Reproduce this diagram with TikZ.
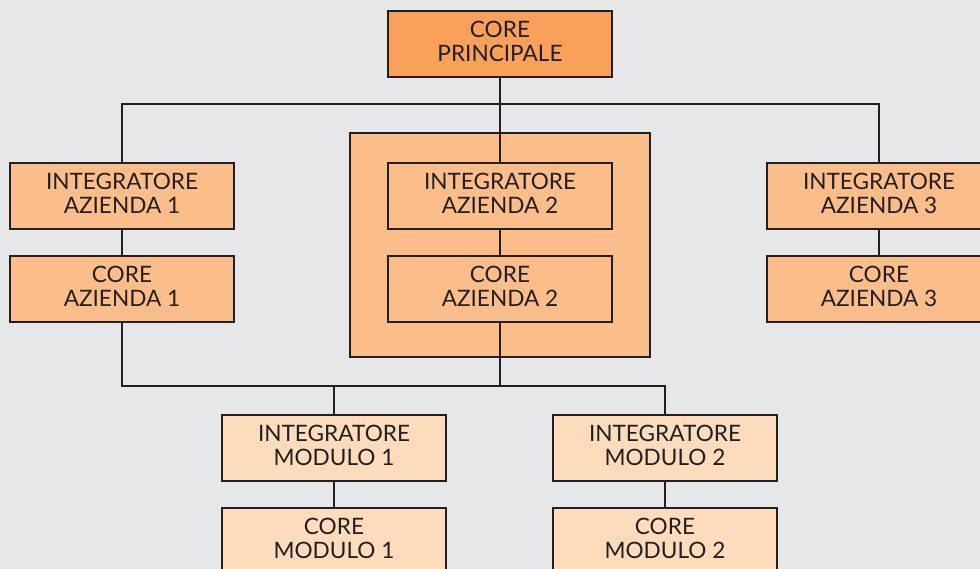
\documentclass[tikz,border=0pt]{standalone}
\usepackage{fontspec}
\setmainfont{Lato}
\definecolor{bg}{HTML}{E6E7E9}
\definecolor{ink}{HTML}{231F20}
\definecolor{mainorange}{HTML}{F9A05A}
\definecolor{midorange}{HTML}{FBBE8A}
\definecolor{lightorange}{HTML}{FDDBBD}
\begin{document}
\begin{tikzpicture}[x=1pt,y=-1pt,
  unit/.style={draw=ink, line width=2.7pt, text=ink, minimum width=224pt, minimum height=66pt,
    inner sep=0pt, align=center, text depth=5pt, font=\fontsize{22.6}{24.5}\selectfont},
  mainbox/.style={unit, fill=mainorange},
  firmbox/.style={unit, fill=midorange},
  modbox/.style={unit, fill=lightorange},
  groupbox/.style={draw=ink, line width=2.7pt, fill=midorange, minimum width=300pt, minimum height=224pt, inner sep=0pt},
  link/.style={draw=ink, line width=2.7pt}]
\useasboundingbox (0,0) rectangle (980,569);
\clip (0,0) rectangle (980,569);
\fill[bg] (0,0) rectangle (980,569);

% principal core and the second company grouped in its frame
\node[mainbox] (p) at (500,44) {CORE\\PRINCIPALE};
\node[groupbox] (g2) at (500,245) {};

% companies
\node[firmbox] (i1) at (122,196) {INTEGRATORE\\AZIENDA 1};
\node[firmbox] (c1) at (122,289) {CORE\\AZIENDA 1};
\node[firmbox] (i2) at (500,196) {INTEGRATORE\\AZIENDA 2};
\node[firmbox] (c2) at (500,289) {CORE\\AZIENDA 2};
\node[firmbox] (i3) at (879,196) {INTEGRATORE\\AZIENDA 3};
\node[firmbox] (c3) at (879,289) {CORE\\AZIENDA 3};

% modules
\node[modbox] (m1) at (334,448) {INTEGRATORE\\MODULO 1};
\node[modbox] (k1) at (334,541) {CORE\\MODULO 1};
\node[modbox] (m2) at (665,448) {INTEGRATORE\\MODULO 2};
\node[modbox] (k2) at (665,541) {CORE\\MODULO 2};

% junctions of the two bus lines
\coordinate (tb) at (500,104);
\coordinate (bb) at (500,386);

% connectors
\draw[link] (p.south) -- (i2.north);
\draw[link] (i1.north) |- (tb) -| (i3.north);
\draw[link] (i1.south) -- (c1.north);
\draw[link] (i2.south) -- (c2.north);
\draw[link] (i3.south) -- (c3.north);
\draw[link] (c2.south) -- (bb);
\draw[link] (c1.south) |- (bb);
\draw[link] (m1.north) |- (bb) -| (m2.north);
\draw[link] (m1.south) -- (k1.north);
\draw[link] (m2.south) -- (k2.north);
\end{tikzpicture}
\end{document}
